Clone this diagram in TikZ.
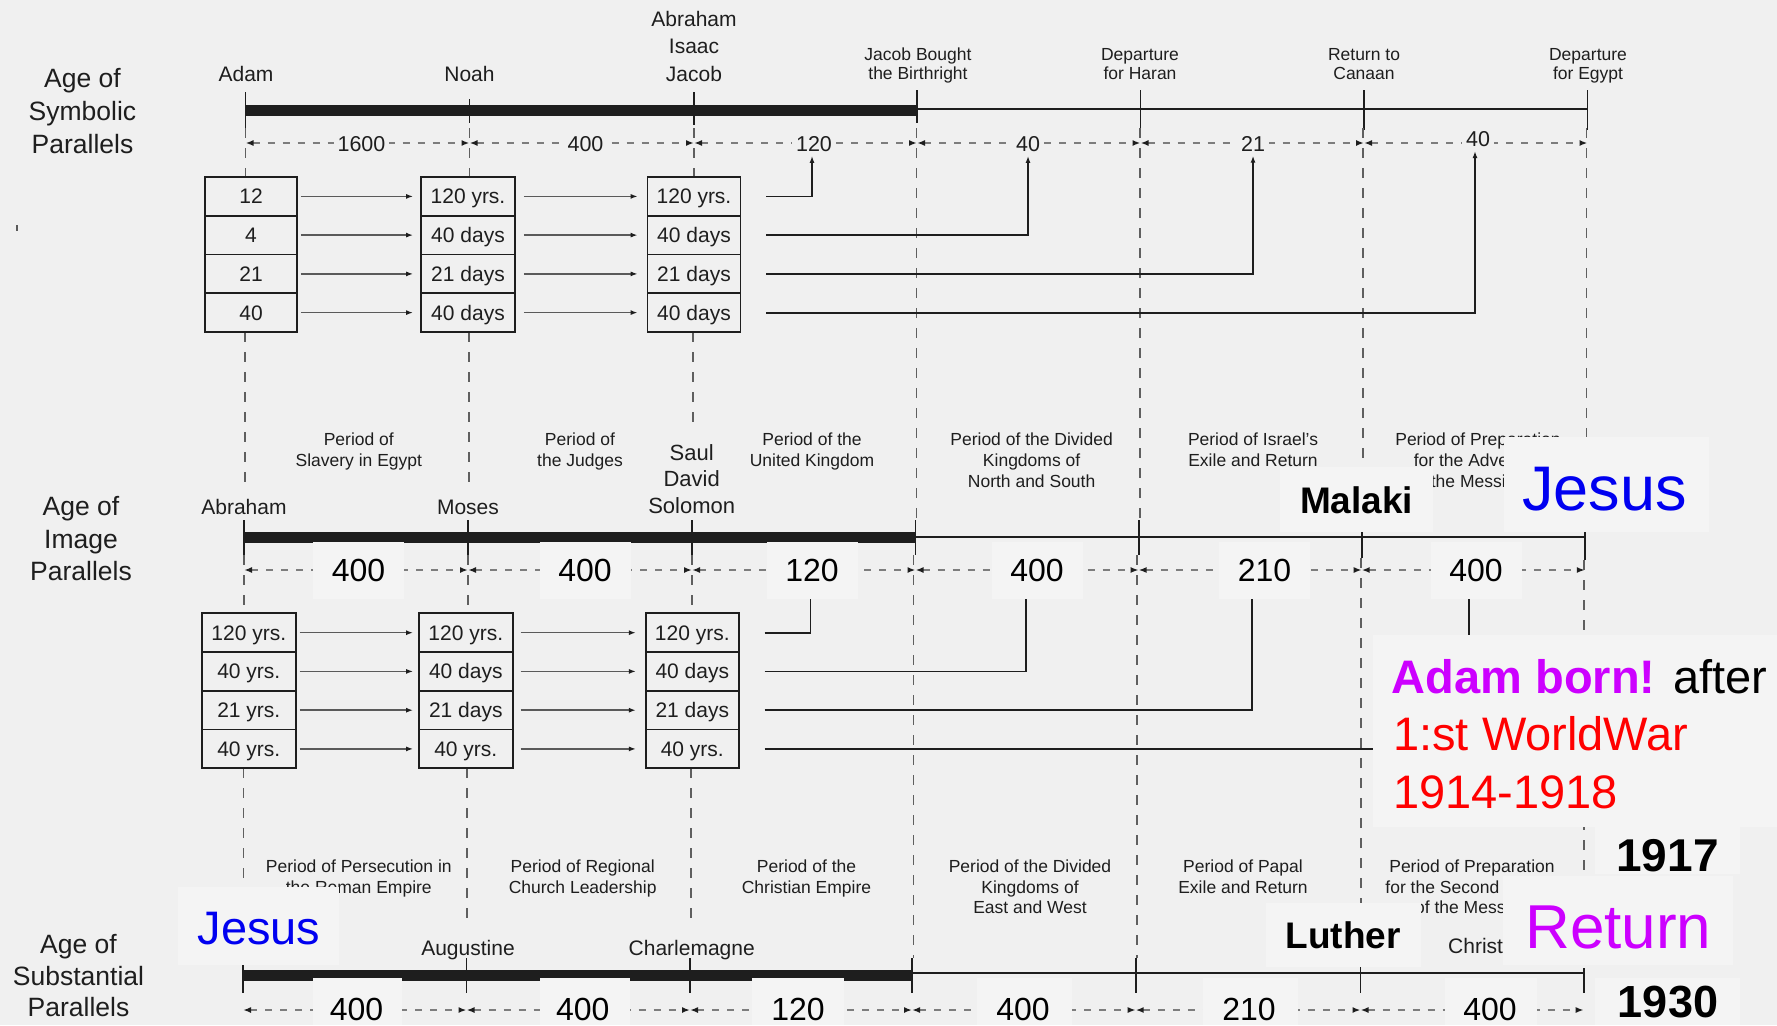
\documentclass[tikz,border=0pt]{standalone}
\usepackage{fontspec}
\setmainfont{Liberation Sans}
\usetikzlibrary{arrows.meta}
\newcommand{\fsz}[1]{\fontsize{#1}{#1}\selectfont}
\definecolor{bgc}{RGB}{240,240,240}
\definecolor{ovc}{RGB}{244,244,244}
\definecolor{ink}{RGB}{30,30,30}
\definecolor{dgray}{RGB}{95,95,95}
\definecolor{dimg}{RGB}{125,125,125}
\definecolor{agray}{RGB}{90,90,90}
\definecolor{jblue}{RGB}{0,0,240}
\definecolor{mag}{RGB}{204,0,255}
\definecolor{wred}{RGB}{255,0,0}
\pgfdeclarelayer{back}
\pgfdeclarelayer{orig}
\pgfsetlayers{back,orig,main}
\begin{document}
\begin{tikzpicture}[x=1pt,y=-1pt,
  txt/.style={inner sep=0pt, text=ink, anchor=base},
  big/.style={txt, font=\fsz{21}},
  sml/.style={txt, font=\fsz{17.5}},
  ttl/.style={txt, font=\fsz{26.5}},
  cell/.style={draw=ink, line width=1.8pt, inner sep=0pt, font=\fsz{21}, text=ink,
    minimum height=38.75pt, text height=15pt, text depth=0pt},
  dlab/.style={font=\fsz{21.5}, text=ink, fill=bgc, inner sep=4pt, anchor=base},
  tickl/.style={draw=ink, line width=1.8pt},
  heavy/.style={draw=ink, line width=11pt},
  thinl/.style={draw=ink, line width=2.4pt},
  vdash/.style={draw=dgray, line width=1.3pt, dash pattern=on 10pt off 10pt},
  dimline/.style={draw=dimg, line width=1.6pt, dash pattern=on 7pt off 8pt,
    {Latex[length=8pt,width=6pt,color=ink]}-{Latex[length=8pt,width=6pt,color=ink]}},
  harrow/.style={draw=agray, line width=1.5pt, -{Latex[length=7pt,width=5pt,color=ink]}},
  conn/.style={draw=ink, line width=1.8pt},
  ovlab/.style={fill=ovc, inner sep=0pt, minimum width=91pt, minimum height=57pt,
    font=\fsz{32}, text=black, text height=23pt, text depth=0pt},
  ovt/.style={inner sep=0pt, anchor=base, font=\fsz{32}, text=black}
]
\useasboundingbox (0,0) rectangle (1777,1025);
\begin{pgfonlayer}{back}
\fill[bgc] (0,0) rectangle (1777,1025);
\end{pgfonlayer}

% ---------- overlay label nodes of the middle row (referenced by connectors)
\node[ovlab] (e1) at (358.5,570) {400};
\node[ovlab] (e2) at (585,570) {400};
\node[ovlab] (e3) at (812,570) {120};
\node[ovlab] (e4) at (1037,570) {400};
\node[ovlab] (e5) at (1264.5,570) {210};
\node[ovlab] (e6) at (1476,570) {400};

% =================== ORIGINAL DIAGRAM ===================
\begin{pgfonlayer}{orig}
\draw[agray, line width=1.2pt] (17,225) -- (17,231);

% ---- Section 1
\node[ttl] (t1a) at (82.5,88) {Age of};
\node[ttl] (t1b) at (82.5,120) {Symbolic};
\node[ttl] (t1c) at (82.5,153) {Parallels};
\node[big] (n1a) at (246,81.7) {Adam};
\node[big] (n1b) at (469.5,81.7) {Noah};
\node[big] (n1c1) at (694,26.5) {Abraham};
\node[big] (n1c2) at (694,54) {Isaac};
\node[big] (n1c3) at (694,81.5) {Jacob};
\node[sml] (n1d1) at (918,60) {Jacob Bought};
\node[sml] (n1d2) at (918,80) {the Birthright};
\node[sml] (n1e1) at (1140,60) {Departure};
\node[sml] (n1e2) at (1140,80) {for Haran};
\node[sml] (n1f1) at (1364,60) {Return to};
\node[sml] (n1f2) at (1364,80) {Canaan};
\node[sml] (n1g1) at (1588,60) {Departure};
\node[sml] (n1g2) at (1588,80) {for Egypt};

\draw[heavy] (245.5,110) -- (917,110);
\draw[thinl] (917,109) -- (1587.5,109);
\draw[tickl] (245.5,92) -- (245.5,128);
\draw[tickl] (469.5,99) -- (469.5,123);
\draw[tickl] (694,92) -- (694,125);
\draw[tickl] (917,90) -- (917,123);
\draw[tickl] (1140.5,90) -- (1140.5,130);
\draw[tickl] (1364,90) -- (1364,130);
\draw[tickl] (1587.5,90) -- (1587.5,130);

% vertical dashed guides section 1 -> 2
\draw[vdash] (245.5,128) -- (245.5,177);
\draw[vdash] (469.5,128) -- (469.5,177);
\draw[vdash] (694,128) -- (694,177);
\draw[vdash] (245,332) -- (245,490);
\draw[vdash] (469,332) -- (469,487);
\draw[vdash] (693,332) -- (693,427);
\draw[vdash] (916.5,128) -- (916.5,520);
\draw[vdash] (1140,128) -- (1140,520);
\draw[vdash] (1363,128) -- (1363,520);
\draw[vdash] (1586.5,128) -- (1586.5,520);

\foreach \a/\b in {245.5/469.5, 469.5/694, 694/917, 917/1140.5, 1140.5/1364, 1364/1587.5}
  \draw[dimline] (\a,143) -- (\b,143);
\node[dlab] (d1) at (361.5,151.5) {1600};
\node[dlab] (d2) at (585.5,151.5) {400};
\node[dlab] (d3) at (814,151.5) {120};
\node[dlab] (d4) at (1028,151.5) {40};
\node[dlab] (d5) at (1253,151.5) {21};
\node[dlab] (d6) at (1478,146.7) {40};

\node[cell, minimum width=92pt] (a1) at (251,196.4) {12};
\node[cell, minimum width=92pt] (a2) at (251,235.1) {4};
\node[cell, minimum width=92pt] (a3) at (251,273.9) {21};
\node[cell, minimum width=92pt] (a4) at (251,312.6) {40};
\node[cell, minimum width=94pt] (b1) at (468,196.4) {120 yrs.};
\node[cell, minimum width=94pt] (b2) at (468,235.1) {40 days};
\node[cell, minimum width=94pt] (b3) at (468,273.9) {21 days};
\node[cell, minimum width=94pt] (b4) at (468,312.6) {40 days};
\node[cell, minimum width=93pt] (c1) at (694,196.4) {120 yrs.};
\node[cell, minimum width=93pt] (c2) at (694,235.1) {40 days};
\node[cell, minimum width=93pt] (c3) at (694,273.9) {21 days};
\node[cell, minimum width=93pt] (c4) at (694,312.6) {40 days};
\foreach \i in {1,2,3,4}{
  \draw[harrow, shorten <=3pt, shorten >=7pt] (a\i.east) -- (b\i.west);
  \draw[harrow, shorten <=8pt, shorten >=9pt] (b\i.east) -- (c\i.west);
}
\draw[conn, -{Latex[length=7pt,width=5pt]}, shorten <=25pt] (c1.east) -| ([xshift=-2pt]d3.south);
\draw[conn, -{Latex[length=7pt,width=5pt]}, shorten <=25pt] (c2.east) -| (d4.south);
\draw[conn, -{Latex[length=7pt,width=5pt]}, shorten <=25pt] (c3.east) -| (d5.south);
\draw[conn, -{Latex[length=7pt,width=5pt]}, shorten <=25pt] (c4.east) -| ([xshift=-3pt]d6.south);

% ---- Section 2
\node[sml] (p1a) at (358.8,445) {Period of};
\node[sml] (p1b) at (358.8,466.7) {Slavery in Egypt};
\node[sml] (p2a) at (580,445) {Period of};
\node[sml] (p2b) at (580,466.7) {the Judges};
\node[sml] (p3a) at (812,445) {Period of the};
\node[sml] (p3b) at (812,466.7) {United Kingdom};
\node[sml] (p4a) at (1031.6,445) {Period of the Divided};
\node[sml] (p4b) at (1031.6,466.7) {Kingdoms of};
\node[sml] (p4c) at (1031.6,487) {North and South};
\node[sml] (p5a) at (1253,445) {Period of Israel's};
\node[sml] (p5b) at (1253,466.7) {Exile and Return};
\node[sml] (p6a) at (1478,445) {Period of Preparation};
\node[sml] (p6b) at (1478,466.7) {for the Advent of};
\node[sml] (p6c) at (1478,487) {the Messiah};
\node[big, font=\fsz{22}] (s1) at (691.7,460) {Saul};
\node[big, font=\fsz{22}] (s2) at (691.7,486.7) {David};
\node[big, font=\fsz{22}] (s3) at (691.7,513) {Solomon};
\node[big] (m1) at (244,514) {Abraham};
\node[big] (m2) at (468,514) {Moses};
\node[ttl] (t2a) at (81,515) {Age of};
\node[ttl] (t2b) at (81,548) {Image};
\node[ttl] (t2c) at (81,580) {Parallels};

\draw[heavy] (244,537) -- (915.5,537);
\draw[thinl] (915.5,536.7) -- (1584.8,536.7);
\foreach \x in {244,468,692,915.5,1138.6}
  \draw[tickl] (\x,520) -- (\x,555);
\draw[tickl] (1361.7,525) -- (1361.7,558);
\draw[tickl] (1584.8,530) -- (1584.8,560);

\foreach \a/\b in {244/468, 468/692, 692/915.5, 915.5/1138.6, 1138.6/1361.7, 1361.7/1584.8}
  \draw[dimline] (\a,570) -- (\b,570);

% vertical dashed guides section 2 -> 3
\draw[vdash] (244,555) -- (244,613.3);
\draw[vdash] (468,555) -- (468,613.3);
\draw[vdash] (692,555) -- (692,613.3);
\draw[vdash] (243.5,768.3) -- (243.5,892);
\draw[vdash] (467,768.3) -- (467,927);
\draw[vdash] (691,768.3) -- (691,927);
\draw[vdash] (913.5,555) -- (913.5,958);
\draw[vdash] (1137,555) -- (1137,958);
\draw[vdash] (1361,558) -- (1361,958);
\draw[vdash] (1584,560) -- (1584,958);

\node[cell, minimum width=93.6pt] (g1a) at (248.8,632.7) {120 yrs.};
\node[cell, minimum width=93.6pt] (g1b) at (248.8,671.4) {40 yrs.};
\node[cell, minimum width=93.6pt] (g1c) at (248.8,710.2) {21 yrs.};
\node[cell, minimum width=93.6pt] (g1d) at (248.8,748.9) {40 yrs.};
\node[cell, minimum width=93.6pt] (g2a) at (465.8,632.7) {120 yrs.};
\node[cell, minimum width=93.6pt] (g2b) at (465.8,671.4) {40 days};
\node[cell, minimum width=93.6pt] (g2c) at (465.8,710.2) {21 days};
\node[cell, minimum width=93.6pt] (g2d) at (465.8,748.9) {40 yrs.};
\node[cell, minimum width=93pt] (g3a) at (692.3,632.7) {120 yrs.};
\node[cell, minimum width=93pt] (g3b) at (692.3,671.4) {40 days};
\node[cell, minimum width=93pt] (g3c) at (692.3,710.2) {21 days};
\node[cell, minimum width=93pt] (g3d) at (692.3,748.9) {40 yrs.};
\foreach \r in {a,b,c,d}{
  \draw[harrow, shorten <=3pt, shorten >=5pt] (g1\r.east) -- (g2\r.west);
  \draw[harrow, shorten <=7pt, shorten >=9pt] (g2\r.east) -- (g3\r.west);
}
\draw[conn, shorten <=25pt] (g3a.east) -| ([xshift=-1.5pt]e3.south);
\draw[conn, shorten <=25pt] (g3b.east) -| ([xshift=-11pt]e4.south);
\draw[conn, shorten <=25pt] (g3c.east) -| ([xshift=-12.5pt]e5.south);
\draw[conn, shorten <=25pt] (g3d.east) -| ([xshift=-7pt]e6.south);

% ---- Section 3
\node[sml] (q1a) at (358.8,872.7) {Period of Persecution in};
\node[sml] (q1b) at (358.8,893.3) {the Roman Empire};
\node[sml] (q2a) at (582.7,872.7) {Period of Regional};
\node[sml] (q2b) at (582.7,893.3) {Church Leadership};
\node[sml] (q3a) at (806.5,872.7) {Period of the};
\node[sml] (q3b) at (806.5,893.3) {Christian Empire};
\node[sml] (q4a) at (1030,872.7) {Period of the Divided};
\node[sml] (q4b) at (1030,893.3) {Kingdoms of};
\node[sml] (q4c) at (1030,913.5) {East and West};
\node[sml] (q5a) at (1243,872.7) {Period of Papal};
\node[sml] (q5b) at (1243,893.3) {Exile and Return};
\node[sml] (q6a) at (1472,872.7) {Period of Preparation};
\node[sml] (q6b) at (1472,893.3) {for the Second Advent};
\node[sml] (q6c) at (1472,913.5) {of the Messiah};
\node[big, anchor=base west] (chr) at (1448,953) {Christ};
\node[big] (u1) at (468,955) {Augustine};
\node[big] (u2) at (691.7,955) {Charlemagne};
\node[ttl] (t3a) at (78.5,953.3) {Age of};
\node[ttl] (t3b) at (78.5,985) {Substantial};
\node[ttl] (t3c) at (78.5,1016.7) {Parallels};

\draw[heavy] (243,975) -- (912,975);
\draw[thinl] (912,972.7) -- (1583.7,972.7);
\foreach \x in {243,466.5,690,912,1135.7,1360.5}
  \draw[tickl] (\x,958) -- (\x,993);
\draw[tickl] (1583.7,968) -- (1583.7,993);
\foreach \a/\b in {243/466.5, 466.5/690, 690/912, 912/1135.7, 1135.7/1360.5, 1360.5/1583.7}
  \draw[dimline] (\a,1010) -- (\b,1010);
\end{pgfonlayer}

% =================== OVERLAYS ===================
% bottom row distance labels
\fill[ovc] (313,978) rectangle (402,1025);
\fill[ovc] (539.6,978) rectangle (630.3,1025);
\fill[ovc] (752,978) rectangle (844,1025);
\fill[ovc] (977,978) rectangle (1071.6,1025);
\fill[ovc] (1203,978) rectangle (1297.6,1025);
\fill[ovc] (1445,978) rectangle (1536.7,1025);
\node[ovt] (f1) at (356.6,1020) {400};
\node[ovt] (f2) at (582.7,1020) {400};
\node[ovt] (f3) at (798,1020) {120};
\node[ovt] (f4) at (1023,1020) {400};
\node[ovt] (f5) at (1249,1020) {210};
\node[ovt] (f6) at (1490,1020) {400};

% Malaki
\fill[ovc] (1280,466.7) rectangle (1433,531.7);
\node[inner sep=0pt, anchor=base, font=\bfseries\fsz{37}, text=black] (malaki) at (1356.7,513.3) {Malaki};
% Jesus (middle)
\fill[ovc] (1503.8,437) rectangle (1708.8,531.7);
\node[inner sep=0pt, anchor=base, font=\fsz{63}, text=jblue] (jesus1) at (1604.5,510) {Jesus};
% Adam born
\fill[ovc] (1372.7,635) rectangle (1777,826.7);
\node[inner sep=0pt, anchor=base west, font=\fsz{47}, text=black] (adam1) at (1391.7,693.3)
  {\textcolor{mag}{\bfseries Adam born!} after};
\node[inner sep=0pt, anchor=base west, font=\fsz{47}, text=wred] (adam2) at (1393,750) {1:st WorldWar};
\node[inner sep=0pt, anchor=base west, font=\fsz{47}, text=wred] (adam3) at (1393,808.3) {1914-1918};
% 1917
\fill[ovc] (1595,826.7) rectangle (1740,874);
\node[inner sep=0pt, anchor=base, font=\bfseries\fsz{46}, text=black] (y1917) at (1667.5,871.7) {1917};
% Luther
\fill[ovc] (1266,903.3) rectangle (1420.6,966.7);
\node[inner sep=0pt, anchor=base, font=\bfseries\fsz{37}, text=black] (luther) at (1343,948.3) {Luther};
% Return
\fill[ovc] (1503.3,876) rectangle (1733.3,965);
\node[inner sep=0pt, anchor=base, font=\fsz{62}, text=mag] (return) at (1618.3,948.3) {Return};
% Jesus (bottom)
\fill[ovc] (178,887.3) rectangle (338.7,965);
\node[inner sep=0pt, anchor=base, font=\fsz{47}, text=jblue] (jesus2) at (259,944) {Jesus};
% 1930
\fill[ovc] (1595,978) rectangle (1740,1025);
\node[inner sep=0pt, anchor=base, font=\bfseries\fsz{45}, text=black] (y1930) at (1668,1017) {1930};
\end{tikzpicture}
\end{document}
